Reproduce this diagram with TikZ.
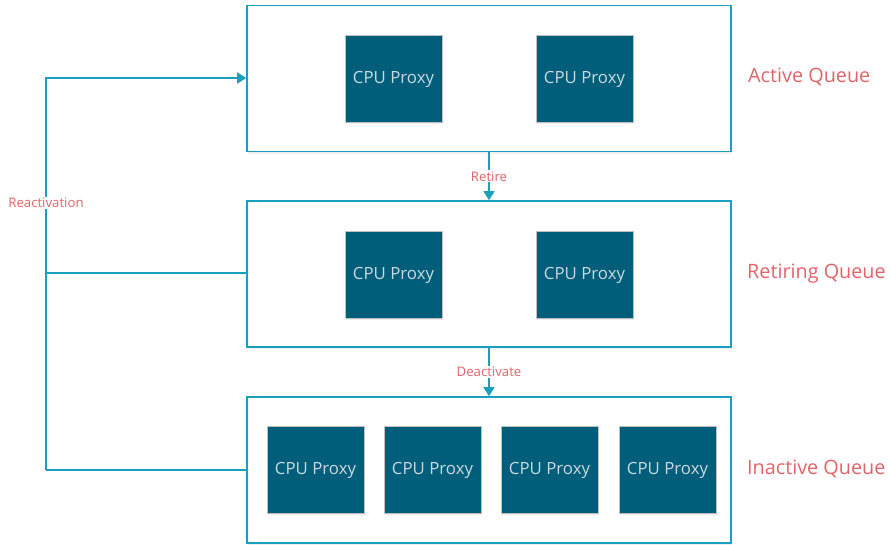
\documentclass[tikz,border=0pt]{standalone}
\usepackage{fontspec}
\setmainfont{Open Sans}
\usetikzlibrary{arrows.meta,shadows}
\definecolor{qline}{HTML}{1AA0BC}
\definecolor{proxyfill}{HTML}{015E7B}
\definecolor{proxytext}{HTML}{C9D9E0}
\definecolor{lblred}{HTML}{E3636A}
\tikzset{
  queue/.style={draw=qline, line width=1.6pt, fill=white, minimum width=484pt, minimum height=146pt, inner sep=0pt, drop shadow={shadow xshift=1pt, shadow yshift=-2pt, opacity=0.12}},
  proxy/.style={draw=black!25, line width=0.8pt, fill=proxyfill, minimum width=97pt, minimum height=87pt, inner sep=0pt, text=proxytext, font=\fontsize{16.8}{20}\selectfont, text height=0.95em, text depth=0pt, drop shadow={shadow xshift=1pt, shadow yshift=-2pt, opacity=0.15}},
  qlabel/.style={text=lblred, font=\fontsize{19.8}{24}\selectfont, anchor=west, inner sep=0pt, text height=0.92em, text depth=0pt},
  elabel/.style={text=lblred, font=\fontsize{13.2}{16}\selectfont, fill=white, inner sep=1pt},
  conn/.style={draw=qline, line width=1.6pt},
  arr/.style={conn, -{Triangle[length=9pt,width=11pt]}},
}
\begin{document}
\begin{tikzpicture}[x=1pt,y=-1pt]
\useasboundingbox (0,0) rectangle (890,544);
% queues
\node[queue] (aq) at (489,78.5) {};
\node[queue] (rq) at (489,274) {};
\node[queue] (iq) at (489,470) {};
% proxies
\node[proxy] (a1) at (393.5,78.5) {CPU Proxy};
\node[proxy] (a2) at (584.5,78.5) {CPU Proxy};
\node[proxy] (r1) at (393.5,274.5) {CPU Proxy};
\node[proxy] (r2) at (584.5,274.5) {CPU Proxy};
\node[proxy] (i1) at (315.5,469.5) {CPU Proxy};
\node[proxy] (i2) at (432.5,469.5) {CPU Proxy};
\node[proxy] (i3) at (549.5,469.5) {CPU Proxy};
\node[proxy] (i4) at (667.5,469.5) {CPU Proxy};
% queue labels
\node[qlabel] (la) at (748,78) {Active Queue};
\node[qlabel] (lr) at (747,274) {Retiring Queue};
\node[qlabel] (li) at (747,470) {Inactive Queue};
% vertical arrows
\draw[arr] (aq.south) -- (rq.north) node[midway, elabel] (lret) {Retire};
\draw[arr] (rq.south) -- (iq.north) node[midway, elabel] (ldeact) {Deactivate};
% reactivation
\coordinate (cb) at (46,470);
\coordinate (cm) at (46,273);
\coordinate (ct) at (46,78);
\draw[conn] (iq.west |- cb) -- (cb);
\draw[conn] (rq.west |- cm) -- (cm);
\draw[arr] (cb) -- (ct) -- (aq.west |- ct);
\node[elabel] (lreact) at (46,203) {Reactivation};
\end{tikzpicture}
\end{document}
